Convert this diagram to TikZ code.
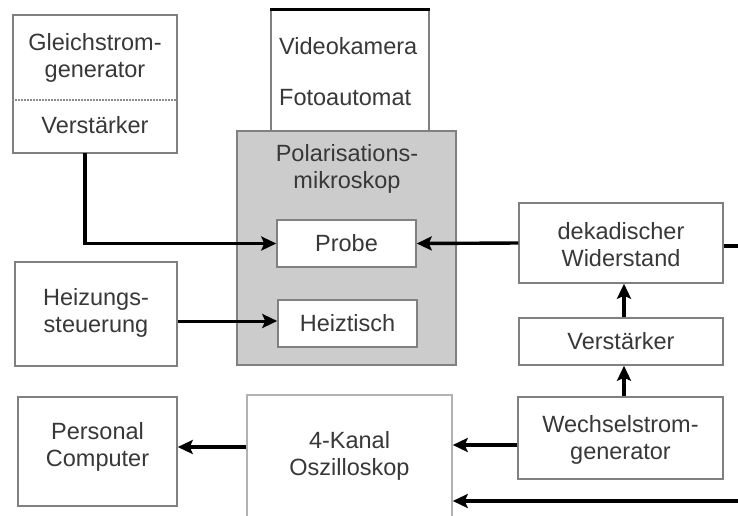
\documentclass[tikz,border=0pt]{standalone}
\usepackage{fontspec}
\setmainfont{Liberation Sans}
\usetikzlibrary{arrows.meta,calc}
\begin{document}
\begin{tikzpicture}[x=1pt,y=-1pt,
  box/.style={draw=black!50,line width=1.5pt,fill=white,inner sep=0pt,rectangle},
  txt/.style={font=\fontsize{23.5}{27}\selectfont,text=black!78,align=center,inner sep=0pt},
  arr/.style={line width=3.4pt,-{Stealth[length=15pt,width=14pt,inset=3pt]}},
  ln/.style={line width=3.2pt}]
\useasboundingbox (0,0) rectangle (738,515);
\begin{scope}
\clip (0,0) rectangle (738,515);
% boxes
\node[box,minimum width=164pt,minimum height=138pt] (gs) at (95,84) {};
\draw[black!45,line width=1.2pt,dash pattern=on 2pt off 1pt] (gs.west |- 0,100) -- (gs.east |- 0,100);
\node[txt] (gstxt) at (95,57.5) {Gleichstrom-\\generator};
\node[txt] (gsv) at (95,125) {Verstärker};

\node[box,minimum width=158pt,minimum height=121pt] (vid) at (350,70.5) {};
\draw[black,line width=3pt] (vid.north west) -- (vid.north east);
\node[txt,anchor=west] (vidt) at (279,46) {Videokamera};
\node[txt,anchor=west] (fot) at (279,98) {Fotoautomat};

\node[box,fill=black!20,minimum width=219pt,minimum height=234pt] (mik) at (346.5,248) {};
\node[txt] (miktxt) at (347,169) {Polarisations-\\mikroskop};
\node[box,minimum width=139pt,minimum height=47pt] (probe) at (346.5,243.5) {};
\node[txt] (probetxt) at (probe) {Probe};
\node[box,minimum width=139pt,minimum height=47pt] (heiz) at (347.5,323.5) {};
\node[txt] (heiztxt) at (heiz) {Heiztisch};

\node[box,minimum width=162pt,minimum height=104pt] (hs) at (96,314) {};
\node[txt] (hstxt) at (96,313) {Heizungs-\\steuerung};

\node[box,minimum width=204pt,minimum height=80pt] (dek) at (621,243) {};
\node[txt] (dektxt) at (621,245) {dekadischer\\Widerstand};
\node[box,minimum width=204pt,minimum height=47pt] (ver) at (621,341.5) {};
\node[txt] (vertxt) at (ver) {Verstärker};
\node[box,minimum width=205pt,minimum height=82pt] (wg) at (620.5,438) {};
\node[txt] (wgtxt) at (620.5,440) {Wechselstrom-\\generator};

\node[box,draw=black!30,minimum width=205pt,minimum height=126pt] (osz) at (349.5,458) {};
\node[txt] (osztxt) at (349.5,456) {4-Kanal\\Oszilloskop};
\node[box,minimum width=159pt,minimum height=109pt] (pc) at (97.5,451.5) {};
\node[txt] (pctxt) at (97.5,446.5) {Personal\\Computer};

% connectors
\coordinate (gsdown) at (85,153);
\draw[arr,line width=3.2pt] (gsdown) |- (probe.west);
\draw[arr] (dek.west) -- (probe.east);
\coordinate (dekout) at (740,246);
\draw[ln] (dek.east |- dekout) -- (dekout);
\draw[arr,line width=3pt] (hs.east |- 0,321) -- (heiz.west |- 0,321);
\draw[arr,line width=3.2pt] (ver.north -| 624,0) -- (dek.south -| 624,0);
\draw[arr,line width=3.2pt] (wg.north -| 624,0) -- (ver.south -| 624,0);
\coordinate (ywg) at (0,445);
\draw[arr] (wg.west |- ywg) -- (osz.east |- ywg);
\coordinate (ypc) at (0,447);
\draw[arr] (osz.west |- ypc) -- (pc.east |- ypc);
\coordinate (rin) at (740,501);
\draw[arr] (rin) -- (osz.east |- rin);
\end{scope}
\end{tikzpicture}
\end{document}
